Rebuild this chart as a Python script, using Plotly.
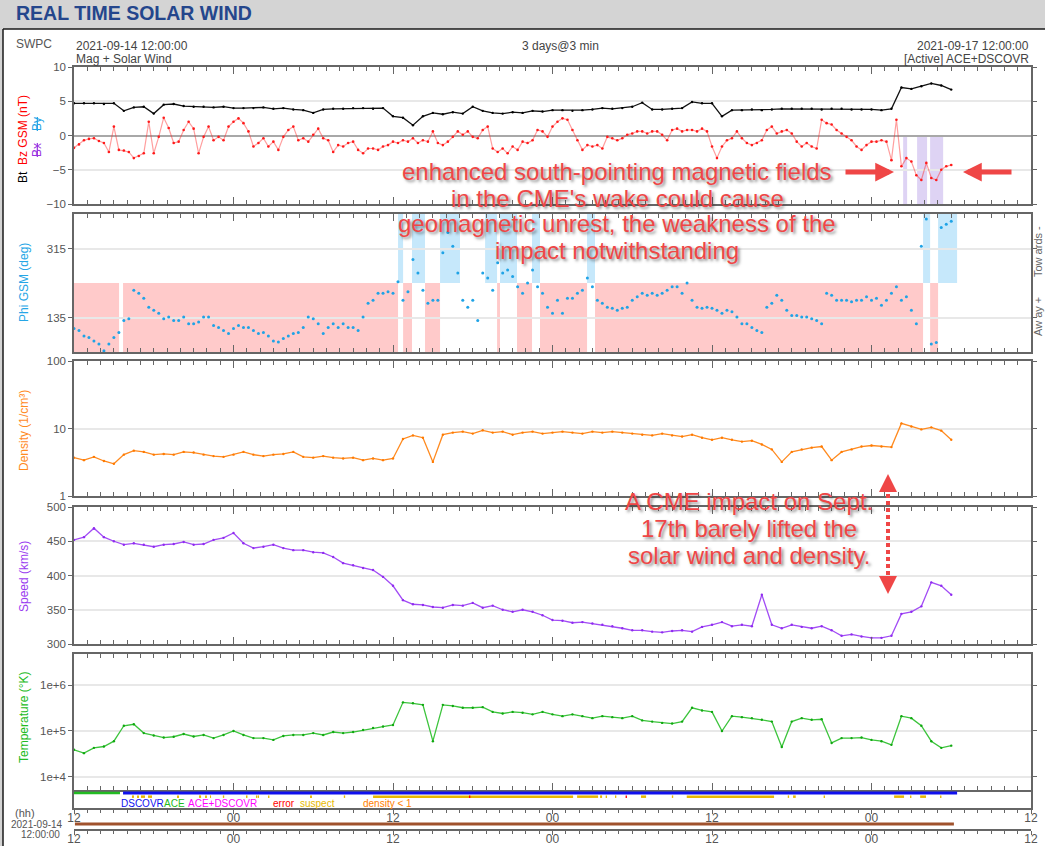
import numpy as np
import pandas as pd
import plotly.graph_objects as go

W, H = 1045, 846
FONT = "Liberation Sans, Arial, Helvetica, sans-serif"
AX = "#666666"
TICK = "#555555"
RED_TXT = "#ef4646"

START = pd.Timestamp("2021-09-14 12:00:00")
END = pd.Timestamp("2021-09-17 12:00:00")

# ---------------- data ----------------
# magnetometer Bz GSM (nT), 22.5-minute samples from START
bz_gsm_nT = [
    -1.8, -1.3, -0.7, -0.5, -0.4, -0.8, -1.1, -2.4, 1.3, -2.1,
    -2.2, -2.4, -3.3, -3.0, -2.6, 2.0, -2.6, -0.2, 2.6, 1.1,
    -1.1, -0.9, 0.8, 2.0, 1.0, -2.6, -0.2, 1.3, -0.7, -0.2,
    -0.7, 1.3, 2.0, 2.5, 1.8, 0.6, -1.6, -1.1, -0.4, -1.6,
    -0.9, -2.1, -0.2, 0.8, 1.3, -0.7, -0.4, -0.9, 0.1, 1.0,
    -0.4, -0.7, -2.4, -1.4, -1.6, -1.1, -0.9, -2.1, -2.6, -1.9,
    -1.9, -2.1, -1.6, -1.4, -0.9, -1.1, -0.7, -0.9, -0.4, -1.1,
    -0.7, -0.9, 0.6, -1.1, -1.4, -0.9, -0.2, 0.6, 0.1, 0.6,
    -0.2, -0.4, 0.8, 1.3, -1.9, -2.4, -1.9, -2.6, -1.6, -2.1,
    -0.9, -1.1, -0.7, 0.8, 0.6, -0.2, 1.3, 2.0, 2.5, 2.3,
    0.8, -0.7, -2.1, -1.4, -1.6, -1.4, -1.9, -0.2, -0.4, -0.7,
    -0.4, 0.1, 0.3, 0.6, 0.6, 0.3, 0.6, 0.6, 0.1, -0.7,
    0.8, 1.0, 0.6, 0.8, 0.8, 0.6, 1.0, 0.6, -1.6, -3.3,
    -1.6, -0.7, -0.4, 0.6, -0.4, -1.1, -1.4, -1.1, -0.7, 0.8,
    1.3, 0.3, 0.6, 0.8, 0.3, -0.9, -1.6, -1.1, -1.6, -1.9,
    2.3, 1.8, 1.6, 0.8, 0.3, -0.2, -0.7, -1.6, -2.1, -1.4,
    -0.9, -0.9, -0.7, -0.9, -3.6, 2.3, -4.5, -3.3, -3.8, -5.8,
    -6.5, -4.0, -6.2, -6.5, -5.0, -4.5, -4.3,
]

# Phi GSM (deg), 22.5-minute samples
phi_gsm_deg = [
    106, 101, 87, 83, 74, 66, 48, 66, 83, 96,
    127, 132, 206, 198, 185, 162, 154, 146, 132, 136,
    127, 127, 136, 119, 119, 123, 136, 136, 114, 109,
    101, 93, 106, 114, 109, 109, 101, 93, 96, 87,
    74, 71, 80, 87, 93, 96, 109, 136, 132, 119,
    93, 109, 119, 109, 119, 109, 109, 101, 136, 172,
    180, 198, 198, 202, 198, 228, 180, 202, 286, 251,
    206, 172, 180, 180, 304, 357, 321, 251, 180, 162,
    180, 127, 251, 238, 206, 278, 251, 259, 242, 215,
    198, 225, 259, 215, 198, 162, 146, 180, 146, 185,
    185, 198, 206, 238, 215, 180, 172, 162, 159, 154,
    159, 162, 180, 189, 198, 193, 198, 193, 198, 206,
    215, 215, 198, 225, 180, 162, 159, 162, 159, 154,
    146, 154, 150, 136, 119, 119, 109, 101, 96, 162,
    172, 193, 180, 154, 140, 140, 136, 136, 132, 127,
    119, 198, 193, 180, 180, 180, 176, 180, 180, 189,
    180, 185, 167, 180, 198, 215, 180, 189, 154, 119,
    321, 392, 66, 70, 370, 378, 386,
]

# Bt (nT), 45-minute samples
bt_nT = [
    4.7, 4.7, 4.7, 4.6, 4.7, 3.6, 4.1, 4.2, 3.2, 4.5,
    4.6, 4.3, 4.2, 4.2, 4.1, 4.2, 4.0, 4.0, 4.0, 4.1,
    3.9, 4.0, 3.8, 3.7, 3.3, 3.8, 3.9, 3.9, 4.0, 4.0,
    3.9, 4.0, 2.8, 2.6, 1.5, 2.8, 3.3, 3.1, 3.4, 3.2,
    4.2, 3.6, 3.3, 3.2, 3.4, 3.3, 3.6, 3.5, 3.7, 3.7,
    3.6, 3.7, 3.8, 4.0, 3.9, 4.0, 4.2, 4.8, 3.8, 3.8,
    3.9, 4.0, 4.9, 4.7, 4.7, 2.8, 3.7, 3.7, 3.8, 3.7,
    3.8, 3.9, 3.9, 3.9, 3.9, 3.8, 3.9, 3.9, 3.8, 3.8,
    3.8, 3.7, 3.9, 7.0, 6.8, 7.2, 7.6, 7.3, 6.7,
]

# plasma, 45-minute samples
density_cm3 = [
    3.7, 3.4, 3.8, 3.3, 3.0, 4.1, 4.7, 4.5, 4.1, 4.2,
    4.1, 4.5, 4.4, 4.1, 3.9, 3.8, 4.1, 4.5, 4.1, 3.9,
    4.1, 4.2, 4.5, 3.8, 3.7, 3.9, 3.7, 3.6, 3.7, 3.4,
    3.6, 3.4, 3.6, 7.0, 7.9, 7.3, 3.2, 8.1, 8.7, 9.0,
    8.4, 9.4, 8.7, 9.0, 8.1, 8.7, 9.0, 8.4, 8.7, 9.0,
    8.7, 8.4, 9.0, 8.7, 9.0, 8.7, 8.4, 8.1, 7.9, 8.4,
    7.9, 7.6, 8.1, 7.3, 6.8, 7.3, 6.8, 6.4, 6.6, 5.8,
    4.9, 3.2, 4.5, 4.9, 5.2, 5.4, 3.4, 4.5, 4.9, 5.4,
    5.6, 5.4, 5.3, 11.9, 10.7, 9.7, 10.4, 9.3, 6.8,
]

speed_kms = [
    452, 456, 469, 456, 450, 445, 447, 445, 442, 445,
    446, 449, 445, 446, 452, 455, 462, 447, 440, 442,
    445, 440, 437, 437, 434, 433, 427, 418, 415, 411,
    408, 398, 385, 364, 358, 357, 354, 353, 357, 356,
    360, 353, 356, 350, 347, 350, 347, 342, 335, 334,
    331, 332, 330, 328, 326, 323, 320, 320, 318, 317,
    319, 320, 318, 325, 328, 332, 326, 328, 326, 372,
    328, 323, 328, 325, 323, 326, 320, 312, 314, 311,
    309, 309, 312, 344, 347, 355, 390, 385, 372,
]

temperature_K = [
    3.9e4, 3.3e4, 4.3e4, 4.6e4, 6.0e4, 1.3e5, 1.4e5, 9.0e4, 8.0e4, 7.2e4,
    7.5e4, 8.6e4, 7.6e4, 8.2e4, 7.0e4, 8.2e4, 1.0e5, 8.2e4, 7.0e4, 7.0e4,
    6.4e4, 7.8e4, 8.2e4, 8.2e4, 9.0e4, 8.2e4, 9.5e4, 9.0e4, 9.5e4, 1.05e5,
    1.16e5, 1.25e5, 1.35e5, 4.2e5, 4.0e5, 3.7e5, 6.0e4, 3.7e5, 3.5e5, 3.2e5,
    3.2e5, 3.3e5, 2.6e5, 2.4e5, 2.6e5, 2.5e5, 2.3e5, 2.6e5, 2.3e5, 2.1e5,
    2.3e5, 2.1e5, 1.9e5, 2.1e5, 2.0e5, 1.9e5, 2.1e5, 1.7e5, 1.6e5, 1.5e5,
    1.45e5, 1.6e5, 3.2e5, 2.8e5, 2.6e5, 1.0e5, 2.1e5, 2.0e5, 1.9e5, 1.75e5,
    1.6e5, 4.5e4, 1.6e5, 1.9e5, 1.75e5, 1.8e5, 5.5e4, 7.0e4, 7.0e4, 7.2e4,
    6.4e4, 6.0e4, 5.0e4, 2.1e5, 1.9e5, 1.3e5, 6.0e4, 4.3e4, 4.8e4,
]

# IMF sector periods (hours after START)
away_sector_hours = [(0.0, 3.39), (3.69, 24.38), (24.76, 25.43), (26.41, 27.54),
                     (31.83, 32.05), (33.33, 34.46), (35.06, 38.6), (39.2, 63.88),
                     (64.41, 65.01)]
towards_sector_hours = [(24.38, 24.76), (25.43, 26.41), (27.54, 29.04), (30.93, 31.83),
                        (32.05, 33.33), (34.46, 35.06), (38.6, 39.2), (63.88, 64.41),
                        (65.01, 66.44)]
mag_flag_hours = [(62.38, 62.68), (63.43, 64.18), (64.41, 65.39)]

# data-source / quality strip (hours after START)
ace_hours = [(0.0, 3.46)]
dscovr_hours = [(3.69, 66.44)]
suspect_hours = [(4.36, 4.51), (4.74, 4.89), (5.04, 5.34), (5.57, 5.87), (7.75, 7.9),
                 (9.41, 9.56), (9.86, 10.0), (10.23, 10.31), (11.2, 11.3), (12.94, 13.05),
                 (13.69, 13.8), (13.84, 13.92), (14.6, 14.7), (17.76, 17.9), (20.3, 20.4),
                 (22.5, 37.55), (37.85, 39.43), (39.58, 39.73), (40.0, 40.1), (40.7, 40.8),
                 (42.66, 43.04), (44.98, 45.08), (46.1, 52.67), (53.7, 53.8), (54.1, 54.3),
                 (56.4, 56.5), (61.7, 62.45), (62.9, 63.0), (63.66, 64.1), (65.16, 65.26)]
error_hours = [(29.72, 29.82), (41.5, 41.6)]
active_span_hours = [(0.07, 66.2)]

# ---------------- helpers ----------------
t_fast = pd.date_range(START, periods=len(bz_gsm_nT), freq="22min30s")
t_slow = pd.date_range(START, periods=len(density_cm3), freq="45min")


def at(h):
    return (START + pd.Timedelta(hours=h)).strftime("%Y-%m-%d %H:%M:%S")


def px(x):
    return x / W


def py(y):
    return 1 - y / H


def dom(top, bot):
    return [py(bot), py(top)]


XDOM = [px(74), px(1031)]


def xaxis(anchor, **kw):
    d = dict(type="date", range=[START, END], anchor=anchor, domain=XDOM, automargin=False,
             showline=True, linecolor=AX, linewidth=1.5, mirror="allticks",
             ticks="inside", ticklen=7, tickwidth=1, tickcolor=AX,
             tick0=START, dtick=43200000, tickformat="%H",
             showticklabels=False, showgrid=False, zeroline=False,
             tickfont=dict(family=FONT, size=12, color=TICK),
             minor=dict(dtick=3600000, ticks="inside", ticklen=4, tickcolor=AX,
                        tickwidth=1, showgrid=False))
    d.update(kw)
    return d


def yaxis(anchor, top, bot, **kw):
    d = dict(anchor=anchor, domain=dom(top, bot), automargin=False, showline=True,
             linecolor=AX, linewidth=1.5, mirror="allticks", ticks="outside", ticklen=4,
             tickcolor=AX, showgrid=True, gridcolor="#e8e8e8", gridwidth=1.5,
             zeroline=False, tickfont=dict(family=FONT, size=11.5, color=TICK))
    d.update(kw)
    return d


fig = go.Figure()

# panel 1: Bt / Bz
fig.add_trace(go.Scatter(x=t_fast, y=bz_gsm_nT, xaxis="x", yaxis="y", mode="lines+markers",
                         line=dict(color="rgba(255,40,40,0.45)", width=1.2),
                         marker=dict(color="#ff1a1a", size=2.6)))
fig.add_trace(go.Scatter(x=t_slow, y=bt_nT, xaxis="x", yaxis="y", mode="lines+markers",
                         line=dict(color="#111111", width=1.3),
                         marker=dict(color="#000000", size=2.4)))
# panel 2: phi
fig.add_trace(go.Scatter(x=t_fast, y=phi_gsm_deg, xaxis="x2", yaxis="y2", mode="markers",
                         marker=dict(color="#1fa3e6", size=3)))
# panel 3: density
fig.add_trace(go.Scatter(x=t_slow, y=density_cm3, xaxis="x3", yaxis="y3", mode="lines+markers",
                         line=dict(color="#ff8a1f", width=1.3),
                         marker=dict(color="#ff7a00", size=2.4)))
# panel 4: speed
fig.add_trace(go.Scatter(x=t_slow, y=speed_kms, xaxis="x4", yaxis="y4", mode="lines+markers",
                         line=dict(color="#a24cf5", width=1.3),
                         marker=dict(color="#8f2bf0", size=2.4)))
# panel 5: temperature
fig.add_trace(go.Scatter(x=t_slow, y=temperature_K, xaxis="x5", yaxis="y5", mode="lines+markers",
                         line=dict(color="#3cc43c", width=1.3),
                         marker=dict(color="#10a810", size=2.4)))
# active-source bar
for a, b in active_span_hours:
    fig.add_trace(go.Scatter(x=[at(a), at(b)], y=[0.5, 0.5], xaxis="x7", yaxis="y7",
                             mode="lines", line=dict(color="#a0522d", width=3)))

shapes = []
for a, b in away_sector_hours:
    shapes.append(dict(type="rect", xref="x2", yref="y2", x0=at(a), x1=at(b), y0=45, y1=225,
                       fillcolor="#ffcaca", line=dict(width=0), layer="below"))
for a, b in towards_sector_hours:
    shapes.append(dict(type="rect", xref="x2", yref="y2", x0=at(a), x1=at(b), y0=225, y1=405,
                       fillcolor="#c6e8fb", line=dict(width=0), layer="below"))
for a, b in mag_flag_hours:
    shapes.append(dict(type="rect", xref="x", yref="y", x0=at(a), x1=at(b), y0=-10, y1=0,
                       fillcolor="rgba(200,182,236,0.6)", line=dict(width=0), layer="below"))
for a, b in ace_hours:
    shapes.append(dict(type="line", xref="x6", yref="y6", x0=at(a), x1=at(b), y0=0.83, y1=0.83,
                       line=dict(color="#22bb22", width=2.5)))
for a, b in dscovr_hours:
    shapes.append(dict(type="line", xref="x6", yref="y6", x0=at(a), x1=at(b), y0=0.83, y1=0.83,
                       line=dict(color="#1010ee", width=3)))
for a, b in suspect_hours:
    shapes.append(dict(type="line", xref="x6", yref="y6", x0=at(a), x1=at(b), y0=0.63, y1=0.63,
                       line=dict(color="#e8b800", width=2.5)))
for a, b in error_hours:
    shapes.append(dict(type="line", xref="x6", yref="y6", x0=at(a), x1=at(b), y0=0.63, y1=0.63,
                       line=dict(color="#ff0000", width=2.5)))

# page furniture
shapes += [
    dict(type="rect", xref="paper", yref="paper", x0=0, x1=1, y0=py(29), y1=1,
         fillcolor="#d4d4d4", line=dict(width=0), layer="below"),
    dict(type="rect", xref="paper", yref="paper", x0=0, x1=px(3), y0=0, y1=1,
         fillcolor="#d4d4d4", line=dict(width=0), layer="below"),
    dict(type="line", xref="paper", yref="paper", x0=px(3), x1=1, y0=py(29), y1=py(29),
         line=dict(color="#1a1a1a", width=1.5)),
    dict(type="line", xref="paper", yref="paper", x0=px(3), x1=px(3), y0=0, y1=py(29),
         line=dict(color="#1a1a1a", width=1.5)),
    # dotted double arrow shaft
    dict(type="line", xref="paper", yref="paper", x0=px(888), x1=px(888), y0=py(487), y1=py(582),
         line=dict(color=RED_TXT, width=4, dash="4px,3px")),
]

ann = []


def txt(x, y, s, size=12, color=TICK, xanchor="left", angle=0, **fk):
    f = dict(family=FONT, size=size, color=color)
    f.update(fk)
    ann.append(dict(xref="paper", yref="paper", x=px(x), y=py(y), text=s, showarrow=False,
                    xanchor=xanchor, yanchor="middle", textangle=angle, font=f))


txt(14, 13, "<b>REAL TIME SOLAR WIND</b>", size=19.5, color="#24468c")
txt(14, 44, "SWPC", size=12, color="#555555")
txt(74, 46, "2021-09-14 12:00:00", color="#444444")
txt(74, 59, "Mag + Solar Wind", color="#444444")
txt(560, 46, "3 days@3 min", color="#444444", xanchor="center")
txt(1031, 46, "2021-09-17 12:00:00", color="#444444", xanchor="right")
txt(1031, 59, "[Active] ACE+DSCOVR", color="#444444", xanchor="right")

# axis titles
txt(23, 139, "Bt&nbsp;&nbsp;<span style='color:#ff0000'>Bz GSM (nT)</span>", color="#000000",
    xanchor="center", angle=-90)
txt(37, 150, "Bx", color="#9932e0", xanchor="center", angle=-90, lineposition="through")
txt(37, 124, "By", color="#1fa3e6", xanchor="center", angle=-90, lineposition="through")
txt(24, 283, "Phi GSM (deg)", color="#26a6e6", xanchor="center", angle=-90)
txt(24, 431, "Density (1/cm³)", color="#ff8a1f", xanchor="center", angle=-90)
txt(24, 577, "Speed (km/s)", color="#9a3cf0", xanchor="center", angle=-90)
txt(24, 717, "Temperature (°K)", color="#22bb22", xanchor="center", angle=-90)
txt(1038, 252, "Tow ards -", size=11, color="#666666", xanchor="center", angle=-90)
txt(1038, 317, "Aw ay +", size=11, color="#666666", xanchor="center", angle=-90)

# bottom left labels
txt(25, 813, "(hh)", size=11, color="#555555", xanchor="center")
txt(37, 824, "2021-09-14", size=10, color="#555555", xanchor="center")
txt(40, 834, "12:00:00", size=10, color="#555555", xanchor="center")

# strip legend
txt(119, 803, "DSCOVR", size=10, color="#1010ee")
txt(162, 803, "ACE", size=10, color="#22bb22")
txt(186, 803, "ACE+DSCOVR", size=10, color="#ff00ff")
txt(271, 803, "error", size=10, color="#ff0000")
txt(298, 803, "suspect", size=10, color="#e8b800")
txt(361, 803, "density &lt; 1", size=10, color="#ff8000")

# red commentary
SH = "2px 2px 3px rgba(40,40,40,0.55)"
for y, s in [(171, "enhanced south-pointing magnetic fields"),
             (198, "in the CME's wake could cause"),
             (224, "geomagnetic unrest, the weakness of the"),
             (251, "impact notwithstanding")]:
    txt(617, y, s, size=24, color=RED_TXT, xanchor="center", shadow=SH)
for y, s in [(501, "A CME impact on Sept."),
             (528, "17th barely lifted the"),
             (555, "solar wind and density.")]:
    txt(749, y, s, size=24, color=RED_TXT, xanchor="center", shadow=SH)


def arrow(x, y, ax, ay, width=5, size=0.75):
    ann.append(dict(xref="paper", yref="paper", x=px(x), y=py(y), ax=ax, ay=ay,
                    axref="pixel", ayref="pixel", text="", showarrow=True, arrowhead=2,
                    arrowsize=size, arrowwidth=width, arrowcolor=RED_TXT))


arrow(894, 172, -50, 0)
arrow(963, 172, 50, 0)
arrow(888, 474, 0, 16, width=4, size=0.9)
arrow(888, 594, 0, -16, width=4, size=0.9)

bottom_axis = dict(mirror=False, ticks="outside", ticklen=4, showticklabels=True,
                   ticklabelstandoff=-6,
                   minor=dict(dtick=3600000, ticks="outside", ticklen=3, tickcolor=AX,
                              showgrid=False))

fig.update_layout(
    width=W, height=H, autosize=False,
    margin=dict(l=0, r=0, t=0, b=0, pad=0, autoexpand=False),
    paper_bgcolor="white", plot_bgcolor="white",
    showlegend=False, hovermode=False,
    font=dict(family=FONT, size=12, color=TICK),
    xaxis=xaxis("y"),
    xaxis2=xaxis("y2"),
    xaxis3=xaxis("y3"),
    xaxis4=xaxis("y4"),
    xaxis5=xaxis("y5"),
    xaxis6=xaxis("y6", **bottom_axis),
    xaxis7=xaxis("y7", **bottom_axis),
    yaxis=yaxis("x", 67, 204, range=[-10, 10], tickvals=[-10, -5, 0, 5, 10],
                zeroline=True, zerolinecolor="#a8a8a8", zerolinewidth=2),
    yaxis2=yaxis("x2", 214, 352, range=[45, 405], tickvals=[135, 315]),
    yaxis3=yaxis("x3", 361, 496, type="log", range=[0, 2], tickvals=[1, 10, 100],
                 ticktext=["1", "10", "100"]),
    yaxis4=yaxis("x4", 507, 644, range=[300, 500], tickvals=[300, 350, 400, 450, 500]),
    yaxis5=yaxis("x5", 654, 790, type="log", range=[3.717, 6.674], tickvals=[1e4, 1e5, 1e6],
                 ticktext=["1e+4", "1e+5", "1e+6"]),
    yaxis6=yaxis("x6", 790, 808, range=[0, 1], showgrid=False, ticks="", showticklabels=False,
                 mirror=True),
    yaxis7=dict(anchor="x7", domain=dom(819, 829), range=[0, 1], visible=False,
                automargin=False),
    shapes=shapes,
    annotations=ann,
)

fig.write_html("out.html")
